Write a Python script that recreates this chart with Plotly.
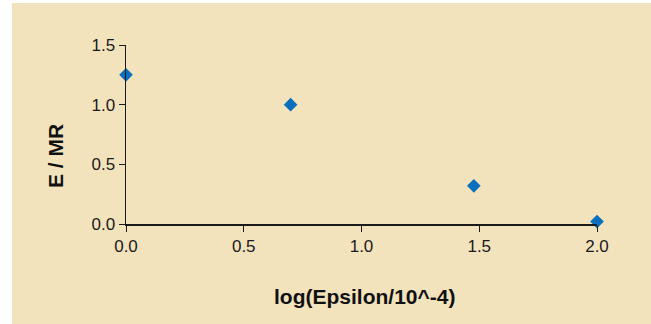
import plotly.graph_objects as go

# Data
x_values = [0.0, 0.699, 1.477, 2.0]
y_values = [1.25, 1.0, 0.32, 0.02]
x_title = "log(Epsilon/10^-4)"
y_title = "E / MR"
x_ticks = [0.0, 0.5, 1.0, 1.5, 2.0]
x_ticklabels = ["0.0", "0.5", "1.0", "1.5", "2.0"]
y_ticks = [0.0, 0.5, 1.0, 1.5]
y_ticklabels = ["0.0", "0.5", "1.0", "1.5"]

W, H = 651, 324
ml, mr, mt, mb = 126, 54, 45, 100
pw = W - ml - mr
ph = H - mt - mb

beige = "#F3E3BD"
font_family = "Liberation Sans, Arial, sans-serif"

fig = go.Figure()
fig.add_trace(go.Scatter(
    x=x_values, y=y_values, mode="markers",
    marker=dict(symbol="diamond", size=10.5, color="#0A70BE", line=dict(width=0)),
    cliponaxis=False, showlegend=False, hoverinfo="skip",
))

axis_common = dict(
    showgrid=False, zeroline=False, showline=True, linecolor="#1a1a1a", linewidth=1.5,
    ticks="outside", ticklen=6, tickwidth=1, tickcolor="#1a1a1a",
    tickfont=dict(family=font_family, size=17, color="#1a1a1a"),
)

fig.update_xaxes(range=[0, 2.0], tickvals=x_ticks, ticktext=x_ticklabels, **axis_common)
fig.update_yaxes(range=[0, 1.5], tickvals=y_ticks, ticktext=y_ticklabels, **axis_common)

def px_to_paper_x(px):
    return (px - ml) / pw

def px_to_paper_y(py):
    return (H - mb - py) / ph

fig.update_layout(
    width=W, height=H,
    margin=dict(l=ml, r=mr, t=mt, b=mb, pad=0),
    paper_bgcolor=beige, plot_bgcolor="rgba(0,0,0,0)",
    shapes=[
        dict(type="rect", xref="paper", yref="paper", layer="below",
             x0=px_to_paper_x(-5), x1=px_to_paper_x(12),
             y0=px_to_paper_y(H + 5), y1=px_to_paper_y(-5),
             fillcolor="white", line=dict(width=0)),
        dict(type="rect", xref="paper", yref="paper", layer="below",
             x0=px_to_paper_x(-5), x1=px_to_paper_x(W + 5),
             y0=px_to_paper_y(3), y1=px_to_paper_y(-5),
             fillcolor="white", line=dict(width=0)),
    ],
    annotations=[
        dict(text="<b>" + x_title + "</b>", xref="paper", yref="paper",
             x=px_to_paper_x(364), y=px_to_paper_y(296), showarrow=False,
             xanchor="center", yanchor="middle",
             font=dict(family=font_family, size=21, color="#111111")),
        dict(text="<b>" + y_title + "</b>", xref="paper", yref="paper",
             x=px_to_paper_x(55), y=px_to_paper_y(156), showarrow=False,
             textangle=-90, xanchor="center", yanchor="middle",
             font=dict(family=font_family, size=21, color="#111111")),
    ],
)

fig.write_html(
    "out.html",
    config={"displayModeBar": False, "staticPlot": True},
    post_script="document.body.style.margin='0';document.body.style.overflow='hidden';"
                "document.body.style.background='" + beige + "';"
                "document.documentElement.style.background='" + beige + "';",
)
